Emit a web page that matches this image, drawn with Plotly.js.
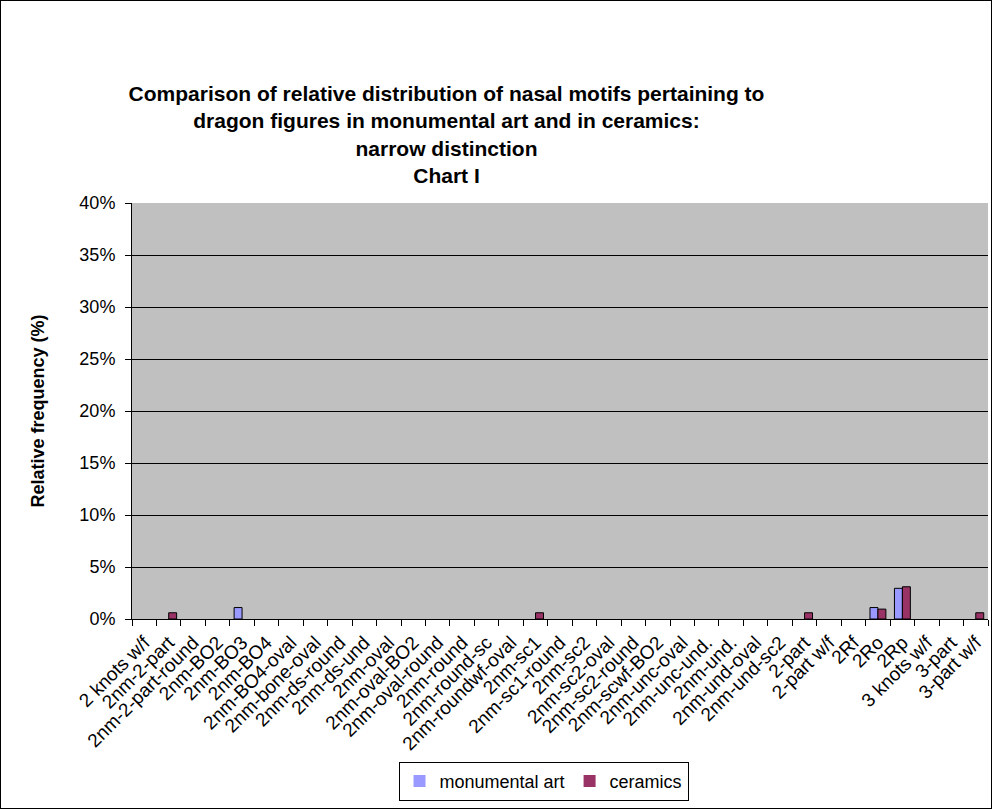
<!DOCTYPE html>
<html>
<head>
<meta charset="utf-8">
<script src="https://cdn.plot.ly/plotly-3.0.1.min.js"></script>
<style>
html,body{margin:0;padding:0;background:#fff;}
#chart{width:992px;height:809px;box-sizing:border-box;border:1px solid #000;}
</style>
</head>
<body>
<div id="chart"></div>
<script>
const categories = ["2 knots w/f","2nm-2-part","2nm-2-part-round","2nm-BO2","2nm-BO3","2nm-BO4","2nm-BO4-oval","2nm-bone-oval","2nm-ds-round","2nm-ds-und","2nm-oval","2nm-oval-BO2","2nm-oval-round","2nm-round","2nm-round-sc","2nm-roundwf-oval","2nm-sc1","2nm-sc1-round","2nm-sc2","2nm-sc2-oval","2nm-sc2-round","2nm-scwf-BO2","2nm-unc-oval","2nm-unc-und.","2nm-und.","2nm-und-oval","2nm-und-sc2","2-part","2-part w/f","2Rf","2Ro","2Rp","3 knots w/f","3-part","3-part w/f"];
const monumentalArt = [0,0,0,0,1.1,0,0,0,0,0,0,0,0,0,0,0,0,0,0,0,0,0,0,0,0,0,0,0,0,0,1.1,2.95,0,0,0];
const ceramics =      [0,0.6,0,0,0,0,0,0,0,0,0,0,0,0,0,0,0.6,0,0,0,0,0,0,0,0,0,0,0.6,0,0,0.95,3.1,0,0,0.6];
const yTicks = [0,5,10,15,20,25,30,35,40];
const yTickText = yTicks.map(v => v + "%");

const font = "Liberation Sans, Arial, sans-serif";
const outline = vals => vals.map(v => v > 0 ? 1 : 0);
const traces = [
  {type:"bar", name:"monumental art", x:categories, y:monumentalArt,
   marker:{color:"#9999FF", line:{color:"#000", width:outline(monumentalArt)}}},
  {type:"bar", name:"ceramics", x:categories, y:ceramics,
   marker:{color:"#993366", line:{color:"#000", width:outline(ceramics)}}}
];
const layout = {
  width:990, height:807,
  margin:{l:131, r:3, t:202, b:189, pad:0},
  paper_bgcolor:"#fff", plot_bgcolor:"#C0C0C0",
  font:{family:font, color:"#000", size:18},
  title:{text:"<b>Comparison of relative distribution of nasal motifs pertaining to<br>dragon figures in monumental art and in ceramics:<br>narrow distinction<br>Chart I</b>",
    x:0.45, xref:"container", xanchor:"center", y:0.876, yref:"container", yanchor:"bottom",
    font:{family:font, size:21, color:"#000"}},
  barmode:"group", bargap:0.35, bargroupgap:0,
  showlegend:true,
  legend:{orientation:"h", x:0.548, xref:"container", xanchor:"center", y:0.009, yref:"container", yanchor:"bottom",
    bordercolor:"#000", borderwidth:1, bgcolor:"#fff", font:{family:font, size:18},
    itemwidth:30, traceorder:"normal"},
  xaxis:{type:"category", tickangle:-45, tickson:"boundaries", ticks:"outside", ticklen:6, tickcolor:"#000",
    ticklabelstandoff:4,
    showline:true, linecolor:"#000", linewidth:1, showgrid:false, mirror:false,
    tickfont:{family:font, size:19}, automargin:false},
  yaxis:{range:[0,40], tickvals:yTicks, ticktext:yTickText, ticks:"outside", ticklen:6, tickcolor:"#000",
    ticklabelstandoff:6,
    showline:true, linecolor:"#000", linewidth:1, showgrid:true, gridcolor:"#000", gridwidth:1,
    zeroline:false, tickfont:{family:font, size:18}, automargin:false,
    title:{text:"<b>Relative frequency (%)</b>", font:{family:font, size:18}, standoff:30}}
};
Plotly.newPlot("chart", traces, layout, {displayModeBar:false, staticPlot:true});
</script>
</body>
</html>
